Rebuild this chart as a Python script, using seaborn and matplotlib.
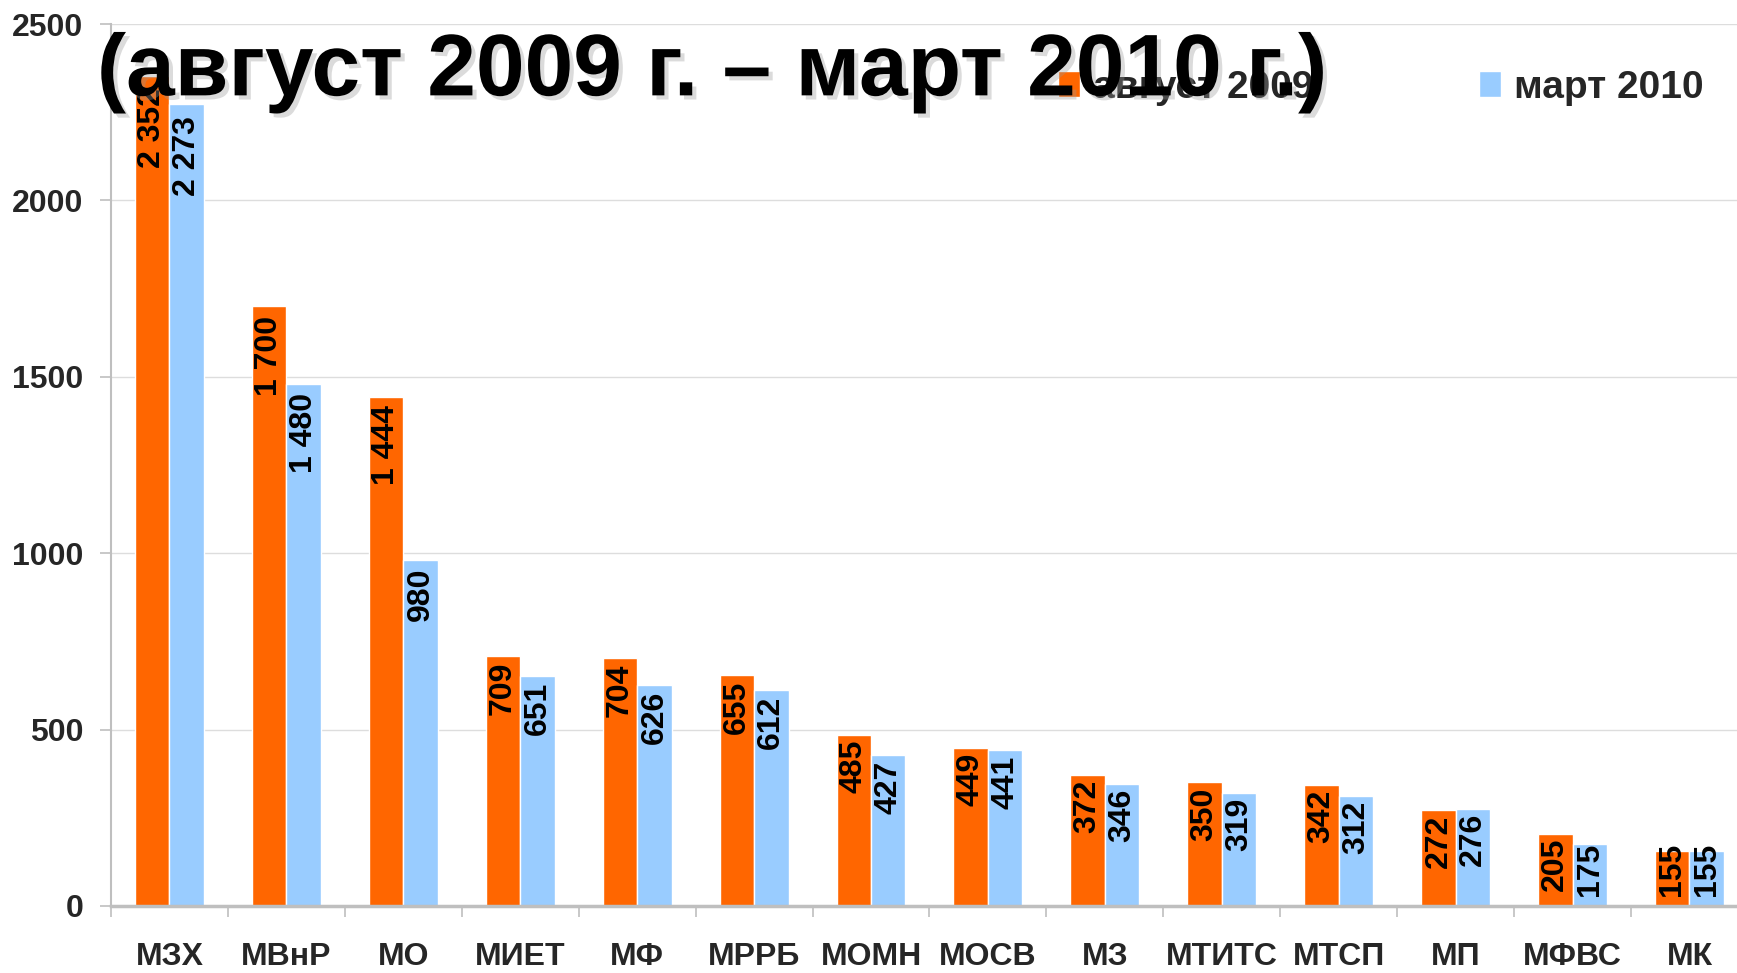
import pandas as pd
import seaborn as sns
import matplotlib.pyplot as plt
import matplotlib.patheffects as pe
from matplotlib.ticker import FixedLocator

sns.set_style("white")
plt.rcParams['font.family'] = ['Liberation Sans', 'DejaVu Sans']
plt.rcParams['font.weight'] = 'bold'

# data
categories = ['МЗХ', 'МВнР', 'МО', 'МИЕТ', 'МФ', 'МРРБ', 'МОМН',
              'МОСВ', 'МЗ', 'МТИТС', 'МТСП', 'МП', 'МФВС', 'МК']
aug_2009 = [2352, 1700, 1444, 709, 704, 655, 485, 449, 372, 350, 342, 272, 205, 155]
mar_2010 = [2273, 1480, 980, 651, 626, 612, 427, 441, 346, 319, 312, 276, 175, 155]
series_names = ['август 2009', 'март 2010']
title_text = '(август 2009 г. – март 2010 г.)'
y_ticks = [0, 500, 1000, 1500, 2000, 2500]

colors = ['#FF6600', '#99CCFF']

df = pd.DataFrame({
    'cat': categories * 2,
    'val': aug_2009 + mar_2010,
    'period': [series_names[0]] * len(categories) + [series_names[1]] * len(categories),
})

fig = plt.figure(figsize=(17.37, 9.73), dpi=100)
ax = fig.add_axes([0.0639, 0.0689, 0.9424, 0.9064])

sns.barplot(data=df, x='cat', y='val', hue='period', palette=colors,
            width=0.59, gap=0, saturation=1, ax=ax, legend=True)

ax.set_xlim(-0.5, len(categories) - 0.5)
ax.set_ylim(0, 2500)
ax.set_xlabel('')
ax.set_ylabel('')

# grid + spines
ax.set_axisbelow(True)
ax.yaxis.grid(True, color='#DDDDDD', linewidth=1)
for s in ['top', 'right']:
    ax.spines[s].set_visible(False)
ax.spines['left'].set_color('#BFBFBF')
ax.spines['left'].set_linewidth(1.5)
ax.spines['bottom'].set_color('#BFBFBF')
ax.spines['bottom'].set_linewidth(2.5)

ax.set_yticks(y_ticks)
ax.set_yticklabels([str(t) for t in y_ticks], fontsize=23, fontweight='bold')
ax.tick_params(axis='y', length=8, width=1.2, color='#BFBFBF', pad=12, left=True)

ax.set_xticks(range(len(categories)))
ax.set_xticklabels(categories, fontsize=23, fontweight='bold')
ax.tick_params(axis='x', which='major', length=0, pad=26)
ax.xaxis.set_minor_locator(FixedLocator([i - 0.5 for i in range(len(categories) + 1)]))
ax.tick_params(axis='x', which='minor', length=8, width=1.2, color='#BFBFBF', bottom=True)

# value labels inside bars
for cont, vals in zip(ax.containers, [aug_2009, mar_2010]):
    for bar, v in zip(cont, vals):
        xc = bar.get_x() + bar.get_width() / 2
        top = max(v * 0.99 - 10, 180)
        ax.text(xc, top, f'{v:,}'.replace(',', ' '), rotation=90,
                ha='center', va='top', fontsize=23, fontweight='bold',
                color='black')

# legend
sns.move_legend(ax, 'center left', bbox_to_anchor=(0.609, 0.9096),
                bbox_transform=fig.transFigure, ncol=2, title=None,
                frameon=False, fontsize=28, handlelength=0.57,
                handleheight=0.65, handletextpad=0.33, columnspacing=4.25,
                borderpad=0, borderaxespad=0)
for t in ax.get_legend().get_texts():
    t.set_fontweight('bold')

# title with soft shadow
fig.text(0.0558, 0.902, title_text, fontsize=63, fontweight='bold',
         ha='left', va='baseline', color='black',
         path_effects=[pe.withSimplePatchShadow(offset=(3, -3),
                                                shadow_rgbFace='#999999',
                                                alpha=0.35)])

fig.savefig('out.png', dpi=100)
